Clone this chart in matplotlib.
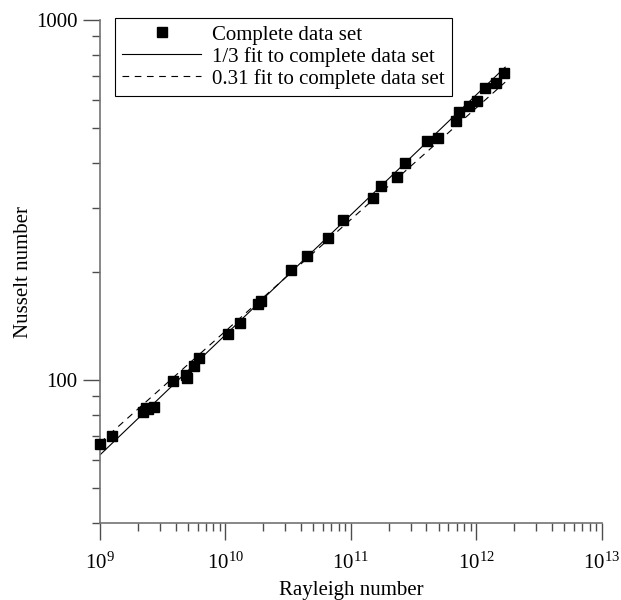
import numpy as np
import matplotlib
matplotlib.use("Agg")
from matplotlib import pyplot as plt
from matplotlib.ticker import LogLocator, NullFormatter, FixedLocator, FixedFormatter

plt.rcParams['font.family'] = 'serif'
plt.rcParams['font.serif'] = ['Liberation Serif', 'DejaVu Serif']
plt.rcParams['mathtext.fontset'] = 'stix'

# Rayleigh / Nusselt values
RA = [1.005e9, 1.254e9, 2.21e9, 2.33e9, 2.41e9, 2.71e9, 3.80e9, 4.85e9, 4.92e9,
      5.61e9, 6.15e9, 1.041e10, 1.305e10, 1.805e10, 1.908e10, 3.345e10, 4.46e10,
      6.62e10, 8.59e10, 1.506e11, 1.734e11, 2.313e11, 2.693e11, 4.07e11, 4.91e11,
      6.87e11, 7.32e11, 8.67e11, 1.009e12, 1.18e12, 1.43e12, 1.665e12]
NU = [66.4, 70.0, 81.5, 83.6, 83.1, 84.3, 99.6, 103.0, 101.3,
      109.0, 114.9, 134.0, 144.3, 162.6, 165.8, 201.7, 221.4,
      248.0, 277.7, 320.9, 345.9, 367.0, 399.9, 461.3, 469.6,
      523.2, 553.5, 575.9, 593.8, 646.6, 669.6, 711.1]

# fit lines, Nu = C * Ra^n
FIT_RANGE = [1e9, 1.7e12]
C_THIRD, N_THIRD = 0.0619, 1/3
C_031, N_031 = 0.1085, 0.31

fig = plt.figure(figsize=(6.21, 6.0), dpi=100)
ax = fig.add_axes([0.161, 0.128, 0.808, 0.839])

ra_fit = np.array(FIT_RANGE)
ax.plot(RA, NU, 's', color='black', markersize=6.8, clip_on=False, zorder=3,
        label='Complete data set')
ax.plot(ra_fit, C_THIRD * ra_fit**N_THIRD, '-', color='black', lw=0.8,
        label='1/3 fit to complete data set')
ax.plot(ra_fit, C_031 * ra_fit**N_031, '--', color='black', lw=0.8,
        dashes=(6, 5), label='0.31 fit to complete data set')

ax.set_xscale('log')
ax.set_yscale('log')
ax.set_xlim(1e9, 1e13)
ax.set_ylim(40, 1000)

ax.yaxis.set_major_locator(FixedLocator([100, 1000]))
ax.yaxis.set_major_formatter(FixedFormatter(['100', '1000']))
ax.yaxis.set_minor_locator(LogLocator(base=10, subs=np.arange(2, 10)))
ax.yaxis.set_minor_formatter(NullFormatter())
ax.xaxis.set_minor_locator(LogLocator(base=10, subs=np.arange(2, 10), numticks=20))
ax.xaxis.set_minor_formatter(NullFormatter())

for side in ['top', 'right']:
    ax.spines[side].set_visible(False)
for side in ['left', 'bottom']:
    ax.spines[side].set_color('0.45')
    ax.spines[side].set_linewidth(1.2)

ax.tick_params(which='major', direction='out', length=12, width=1.0,
               color='0.3', labelsize=15, pad=4)
ax.tick_params(axis='x', which='major', pad=9)
ax.tick_params(which='minor', direction='out', length=6, width=1.0, color='0.3')

ax.set_xlabel('Rayleigh number', fontsize=15, labelpad=5)
ax.set_ylabel('Nusselt number', fontsize=15, labelpad=2)

leg = ax.legend(loc='upper left', bbox_to_anchor=(0.03, 1.004), borderaxespad=0,
                fontsize=15, numpoints=1, handlelength=3.8, handletextpad=0.5,
                fancybox=False, framealpha=1, edgecolor='black',
                labelspacing=0.1, borderpad=0.35)
leg.get_frame().set_linewidth(0.8)

fig.savefig('out.png', dpi=100)
